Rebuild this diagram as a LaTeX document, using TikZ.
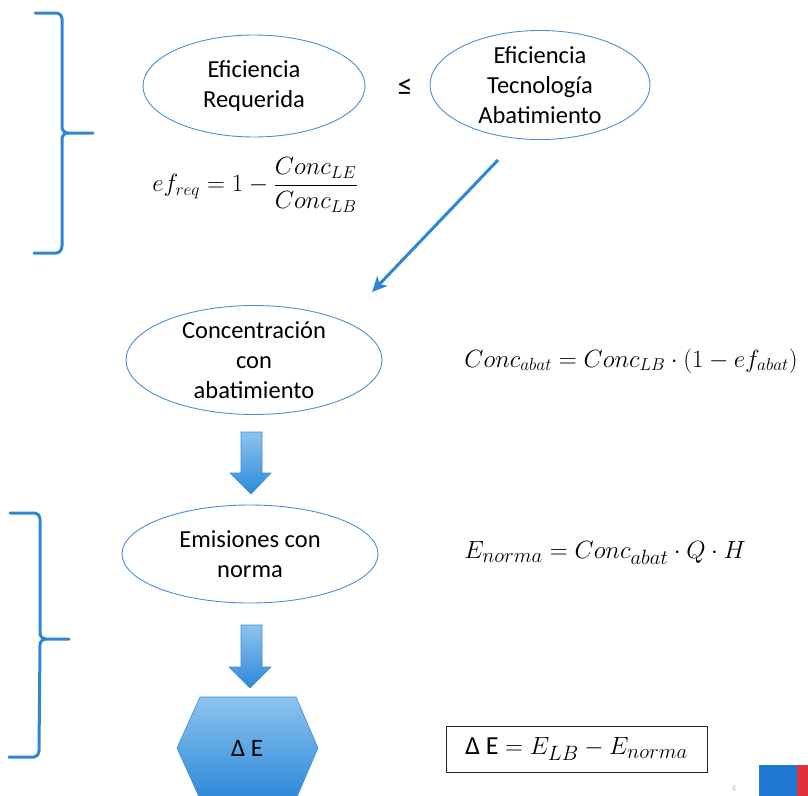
\documentclass[tikz,border=0pt]{standalone}
\usepackage{amsmath}
\usepackage{fontspec}
\setmainfont{Carlito}
\usetikzlibrary{arrows.meta,shapes.geometric}

\definecolor{braceblue}{HTML}{2E86D4}
\definecolor{ellblue}{HTML}{4A8FD6}
\definecolor{shadetop}{HTML}{8DC4EE}
\definecolor{shadebot}{HTML}{2C88DB}
\definecolor{shadeedge}{HTML}{3C8DD2}
\definecolor{flagblue}{HTML}{1F78D1}
\definecolor{flagred}{HTML}{E0313C}

\tikzset{
  bubble/.style={ellipse, draw=ellblue, line width=0.9pt, inner sep=0pt,
    align=center, text=black, font=\fontsize{24.5}{30}\selectfont},
  formula/.style={inner sep=0pt},
  bracket/.style={draw=braceblue, line width=3pt, line cap=round, line join=round},
  blockarrow/.style={top color=shadetop, bottom color=shadebot, draw=shadeedge, line width=0.6pt},
  link/.style={draw=braceblue, line width=3pt, -{Stealth[length=15pt,width=14pt,inset=4pt]}},
}

\begin{document}
\begin{tikzpicture}[x=1pt,y=-1pt]
\useasboundingbox (0,0) rectangle (808,795);
\begin{scope}
\clip (0,0) rectangle (808,795);

% upper bracket
\draw[bracket] (35,13) -- (56,13) to[out=0,in=90] (62,19) -- (62,127)
  to[out=-90,in=180] (68,133) -- (93,133);
\draw[bracket] (68,133) to[out=180,in=90] (62,139) -- (62,246)
  to[out=-90,in=0] (56,253) -- (34,253);

% lower bracket
\draw[bracket] (10,513) -- (35,513) to[out=0,in=90] (40,519) -- (40,633)
  to[out=-90,in=180] (46,639) -- (69,639);
\draw[bracket] (46,639) to[out=180,in=90] (40,645) -- (39,751)
  to[out=-90,in=0] (34,757) -- (9,757);

% efficiency bubbles
\node[bubble, minimum width=222pt, minimum height=102pt] (req) at (254,86)
  {Eficiencia\\Requerida};
\node[font=\fontsize{30}{32}\selectfont] (leq) at (405,87) {≤};
\node[bubble, minimum width=220pt, minimum height=102pt] (tec) at (540,85)
  {Eficiencia\\Tecnología\\Abatimiento};

\node[formula, font=\fontsize{25}{30}\selectfont] (freq) at (255,185)
  {$ef_{req} = 1 - \dfrac{Conc_{LE}}{Conc_{LB}}$};

% chosen technology feeds the abated concentration
\coordinate (linkA) at (498,160);
\coordinate (linkB) at (372,292);
\draw[link] (linkA) -- (linkB);

% abated concentration
\node[bubble, minimum width=256pt, minimum height=102pt] (conc) at (254,360)
  {Concentración\\con\\abatimiento};
\node[formula, font=\fontsize{26.5}{30}\selectfont] (fconc) at (631,361)
  {$Conc_{abat} = Conc_{LB}\cdot(1 - ef_{abat})$};

% first block arrow
\path[blockarrow] (241,432) -- (262,432) -- (262,473) -- (271,473) -- (251,494)
  -- (230,473) -- (241,473) -- cycle;

% emissions under the standard
\node[bubble, minimum width=256pt, minimum height=98pt] (emis) at (250,554)
  {Emisiones con\\norma};
\node[formula, font=\fontsize{28}{30}\selectfont] (femis) at (605,553)
  {$E_{norma} = Conc_{abat}\cdot Q\cdot H$};

% second block arrow
\path[blockarrow] (241,625) -- (262,625) -- (262,667) -- (271,667) -- (250,688)
  -- (229,667) -- (241,667) -- cycle;

% emission reduction
\path[blockarrow] (200,697) -- (296,697) -- (318,748) -- (296,799) -- (200,799)
  -- (177,748) -- cycle;
\node[font=\fontsize{25}{30}\selectfont] (dE) at (247,748) {Δ E};

\node[draw=black!85, line width=1pt, minimum width=261pt, minimum height=46pt,
  font=\fontsize{29}{30}\selectfont] (fdE) at (576.5,749)
  {{\fontsize{26}{30}\selectfont Δ E} $= E_{LB} - E_{norma}$};

% corner emblem and page number
\node[text=black!25, font=\fontsize{9}{10}\selectfont] (pg) at (734,789) {4};
\fill[flagblue] (759,765) rectangle (797,800);
\fill[flagred] (797,765) rectangle (810,800);
\end{scope}
\end{tikzpicture}
\end{document}
